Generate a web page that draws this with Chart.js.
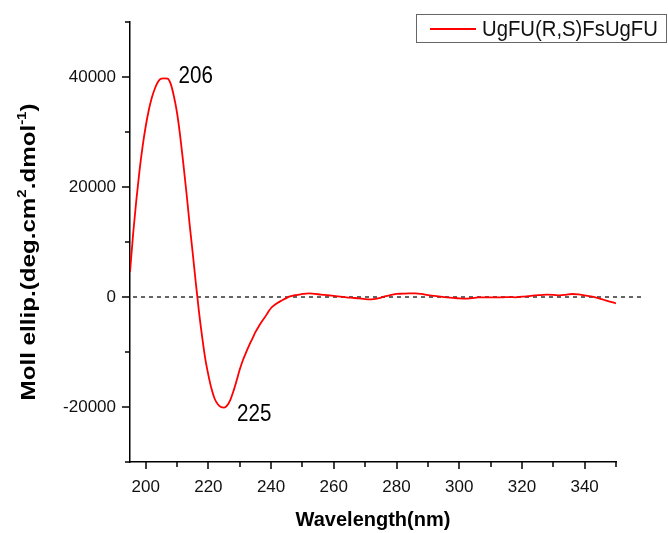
<!DOCTYPE html>
<html><head><meta charset="utf-8">
<script src="https://cdn.jsdelivr.net/npm/chart.js@4.4.0/dist/chart.umd.min.js"></script>
<style>html,body{margin:0;padding:0;background:#fff;overflow:hidden;}</style>
</head><body>
<canvas id="c" width="668" height="533" style="display:block;width:668px;height:533px;"></canvas>
<script>
// ---- data ----
const wavelengths = [195,196,197,198,199,200,201,202,203,204,205,206,207,208,209,210,211,212,213,214,215,216,217,218,219,220,221,222,223,224,225,226,227,228,229,230,231,232,233,234,235,236,237,238,239,240,241,242,243,244,245,246,247,248,249,250,252,254,256,258,260,262,264,266,268,270,272,274,276,278,280,282,284,286,288,290,292,294,296,298,300,302,304,306,308,310,312,314,316,318,320,322,324,326,328,330,332,334,336,338,340,342,344,346,348,350];
const ellipticity = [4500,11500,17500,22800,27300,31000,34000,36300,38000,39200,39700,39750,39700,38700,36500,33500,29300,24300,19000,13300,8000,2500,-2700,-7200,-11200,-14200,-16700,-18500,-19500,-20000,-20100,-19700,-18700,-17100,-15200,-13200,-11500,-10100,-8800,-7600,-6400,-5400,-4500,-3700,-2800,-2000,-1500,-1100,-750,-450,-150,100,250,350,450,550,670,550,450,320,200,80,-50,-150,-250,-380,-420,-250,50,350,550,600,650,670,550,350,200,50,-50,-150,-250,-300,-200,-80,-50,-50,-60,-50,-30,-50,50,150,280,350,420,380,300,400,550,480,300,100,-180,-500,-820,-1150];
const seriesName = 'UgFU(R,S)FsUgFU';
const xTickValues = [200,210,220,230,240,250,260,270,280,290,300,310,320,330,340,350];
const xTickLabels = ['200','','220','','240','','260','','280','','300','','320','','340',''];
const yTickValues = [-30000,-20000,-10000,0,10000,20000,30000,40000,50000];
const yTickLabels = ['','-20000','','0','','20000','','40000',''];
const peakWavelengths = [206,225];
const peakValues = [39750,-20100];
const peakTexts = ['206','225'];
const xTitle = 'Wavelength(nm)';
const yTitleParts = [['Moll ellip.(deg.cm',false],['2',true],['.dmol',false],['-1',true],[')',false]];

const FONT = '"Liberation Sans", Arial, sans-serif';

const customDraw = {
  id: 'customDraw',
  beforeDatasetsDraw(chart) {
    const ctx = chart.ctx, xs = chart.scales.x, ys = chart.scales.y, ca = chart.chartArea;
    // zero reference line
    ctx.save();
    ctx.strokeStyle = '#333';
    ctx.lineWidth = 1.5;
    ctx.setLineDash([4,4]);
    const y0 = Math.round(ys.getPixelForValue(0));
    ctx.beginPath();
    ctx.moveTo(ca.left + 3, y0);
    ctx.lineTo(xs.getPixelForValue(358.5), y0);
    ctx.stroke();
    ctx.restore();
  },
  afterDraw(chart) {
    const ctx = chart.ctx, xs = chart.scales.x, ys = chart.scales.y, ca = chart.chartArea;
    ctx.save();
    // tick marks
    ctx.strokeStyle = '#000';
    ctx.lineWidth = 1.5;
    xs.ticks.forEach((t, i) => {
      const px = Math.round(xs.getPixelForValue(t.value));
      const len = xTickLabels[i] ? 7 : 5;
      ctx.beginPath(); ctx.moveTo(px, ca.bottom); ctx.lineTo(px, ca.bottom + len); ctx.stroke();
    });
    ys.ticks.forEach((t, i) => {
      const py = Math.round(ys.getPixelForValue(t.value));
      const len = yTickLabels[i] ? 8 : 5;
      ctx.beginPath(); ctx.moveTo(ca.left, py); ctx.lineTo(ca.left - len, py); ctx.stroke();
    });
    // peak annotations
    ctx.fillStyle = '#000';
    ctx.font = '20px ' + FONT;
    ctx.textBaseline = 'middle';
    ctx.textAlign = 'left';
    peakTexts.forEach((txt, i) => {
      const px = xs.getPixelForValue(peakWavelengths[i]);
      const py = ys.getPixelForValue(peakValues[i]);
      const dy = peakValues[i] > 0 ? -2 : 7;
      const dx = peakValues[i] > 0 ? 14 : 13;
      ctx.save();
      ctx.translate(px + dx, py + dy);
      ctx.scale(1.03, 1.15);
      ctx.fillText(txt, 0, 0);
      ctx.restore();
    });
    // legend
    ctx.lineWidth = 1;
    ctx.strokeStyle = '#666';
    ctx.strokeRect(416.5, 14.5, 250, 28);
    ctx.strokeStyle = '#ff0000';
    ctx.lineWidth = 1.8;
    ctx.beginPath(); ctx.moveTo(430, 29); ctx.lineTo(476, 29); ctx.stroke();
    ctx.save();
    ctx.translate(482, 29);
    ctx.scale(1.015, 1.12);
    ctx.fillStyle = '#111';
    ctx.font = '20px ' + FONT;
    ctx.fillText(seriesName, 0, 1);
    ctx.restore();
    // y title with superscripts
    const base = 'bold 21px ' + FONT, sup = 'bold 13px ' + FONT;
    let total = 0;
    yTitleParts.forEach(([t, s]) => { ctx.font = s ? sup : base; total += ctx.measureText(t).width; });
    ctx.save();
    ctx.translate(27, 252);
    ctx.rotate(-Math.PI / 2);
    ctx.scale(297 / total, 1);
    ctx.fillStyle = '#000';
    ctx.textBaseline = 'alphabetic';
    let x = -total / 2;
    yTitleParts.forEach(([t, s]) => {
      ctx.font = s ? sup : base;
      ctx.fillText(t, x, s ? -1 : 8);
      x += ctx.measureText(t).width;
    });
    ctx.restore();
    ctx.restore();
  }
};

new Chart(document.getElementById('c'), {
  type: 'line',
  data: {
    datasets: [{
      label: seriesName,
      data: wavelengths.map((w, i) => ({x: w, y: ellipticity[i]})),
      borderColor: '#ff0000',
      borderWidth: 1.8,
      pointRadius: 0,
      fill: false,
      cubicInterpolationMode: 'monotone'
    }]
  },
  options: {
    responsive: false,
    animation: false,
    devicePixelRatio: 1,
    layout: { padding: { left: 0, right: 52, top: 22, bottom: 0 } },
    plugins: { legend: { display: false }, tooltip: { enabled: false } },
    scales: {
      x: {
        type: 'linear', min: 195, max: 350,
        afterFit(s) { s.height = 71; },
        afterBuildTicks(s) { s.ticks = xTickValues.map(v => ({value: v})); },
        grid: { display: false },
        border: { display: true, color: '#000', width: 1.5 },
        ticks: {
          autoSkip: false, maxRotation: 0, padding: 7, color: '#111',
          font: { family: FONT, size: 17 },
          callback: (v, i) => xTickLabels[i]
        },
        title: { display: true, text: xTitle, color: '#000', font: { family: FONT, size: 20, weight: 'bold' }, padding: { top: 0, bottom: 1 } }
      },
      y: {
        type: 'linear', min: -30000, max: 50000,
        afterFit(s) { s.width = 130; },
        afterBuildTicks(s) { s.ticks = yTickValues.map(v => ({value: v})); },
        grid: { display: false },
        border: { display: true, color: '#000', width: 1.5 },
        ticks: {
          autoSkip: false, padding: 6, color: '#111',
          font: { family: FONT, size: 17 },
          callback: (v, i) => yTickLabels[i]
        }
      }
    }
  },
  plugins: [customDraw]
});
</script>
</body></html>
